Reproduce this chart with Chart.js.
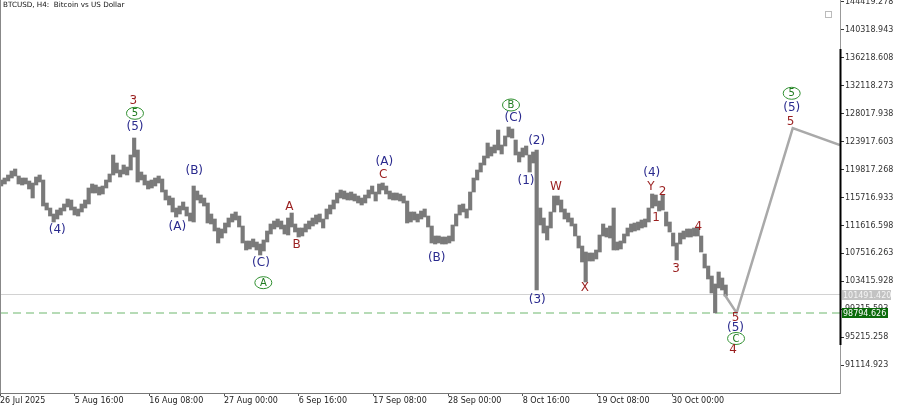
<!DOCTYPE html>
<html><head><meta charset="utf-8">
<script src="https://cdn.jsdelivr.net/npm/chart.js@4.4.1/dist/chart.umd.min.js"></script>
<style>html,body{margin:0;padding:0;background:#fff;overflow:hidden}#wrap{width:900px;height:405px;position:relative}</style>
</head><body><div id="wrap"><canvas id="c" width="900" height="405"></canvas></div>
<script>
// 12-hour blocks (3 H4 bars each) starting 26 Jul 2025 00:00
const highs=[118280,118573,119013,119599,119893,118866,118573,118573,118133,117840,
118720,119013,118280,114908,114175,113296,113882,114175,114762,115495,
115348,114322,114029,114762,115348,117107,117694,117547,117254,117400,
118280,119160,121945,120772,119746,120479,120186,121945,124437,122678,
119453,119013,118133,118280,118573,118866,118427,116814,115934,115641,
114175,114468,115055,114322,113442,117400,116667,116081,115641,114908,
113296,112563,111243,111097,111976,112709,113296,113589,113002,111536,
109337,109337,109631,109191,108898,109484,110803,111830,112269,112563,
112269,111683,112709,113442,111830,111243,111243,111830,112269,112709,
113149,113296,112563,114029,114615,115348,116374,116814,116667,116374,
116521,116228,115934,115641,116081,116814,117400,116521,117694,117840,
117400,116667,116374,116374,116228,115934,115201,113589,113589,113296,
113735,114029,113002,111536,110070,110070,109924,109924,110070,111683,
113296,114615,114762,114029,116521,118573,119746,120772,121798,123704,
123118,123411,125610,123411,124732,126050,125759,124144,122385,122971,
123264,121945,122385,122678,114175,112709,111536,113589,115934,115934,
115348,114029,113442,112709,111830,110070,108604,107725,107578,107578,
108018,110217,111830,111243,111536,114175,109191,109337,110364,111243,
111830,111976,112123,112416,112563,114175,116228,116081,115201,116081,
113589,112123,110510,109044,110510,110803,111097,111097,111243,111390,
110070,107432,105672,104206,103034,104793,103913,102887];
const lows=[117400,117694,118133,118573,118866,117694,117547,117694,116961,115641,
117547,117987,114468,113882,113002,112123,112563,113149,113735,114322,
113882,113149,113002,113589,114175,114762,116374,116374,116081,116228,
117107,117987,119013,119306,118720,119160,119013,119746,121652,117987,
118280,117547,116961,117107,117400,117840,116521,115348,114615,113589,
112856,113296,113882,113002,112269,112123,115348,114908,114468,111976,
111830,110803,109044,109777,110510,111390,112123,112416,111390,109044,
108018,108165,108458,108018,107285,107871,109191,110364,111097,111390,
111097,110364,110217,111390,110657,109924,110070,110657,111097,111536,
111830,112123,111243,112563,113296,114029,114908,115641,115495,115348,
115348,115201,114908,114615,114908,115641,116228,115201,116228,116814,
116228,115495,115348,115348,115201,114908,111976,112123,112416,112123,
112563,112856,111390,109044,108898,109044,108898,108898,109044,109337,
111536,113149,113589,112709,113882,116521,118280,119453,120479,121505,
121798,122238,122678,122092,123264,124586,124437,121945,120919,121652,
121945,119453,120772,102154,111683,110510,109484,111243,113589,114615,
113589,112563,112123,111536,110070,108311,106259,103327,106405,106405,
106699,107725,110070,109924,109777,108018,108018,108165,109044,110070,
110657,110803,110950,111243,111390,112123,114175,114468,113735,113882,
111536,110657,108604,106552,108898,109631,109924,109924,110070,110070,
107725,105379,103767,101714,98800,102447,102154,101274];

const xTickBars=[0,64,128,192,256,320,384,448,512,576]; // H4 bar index
const xTickLabels=['26 Jul 2025','5 Aug 16:00','16 Aug 08:00','27 Aug 00:00','6 Sep 16:00','17 Sep 08:00','28 Sep 00:00','8 Oct 16:00','19 Oct 08:00','30 Oct 00:00'];
const yTickValues=[91114.923,95215.258,99315.593,103415.928,107516.263,111616.598,115716.933,119817.268,123917.603,128017.938,132118.273,136218.608,140318.943,144419.278];

const bidPrice=101491.420;
const levelPrice=98794.626;
const projBars=[621,631.4,679.5,720];
const projPrices=[101491,98800,125880,123400];

// Elliott wave labels: text, H4 bar index, price, degree (n=navy, m=maroon, g=green circled)
const waveText =['(4)','3','5','(5)','(A)','(B)','(C)','A','A','B','(A)','C','(B)','B','(C)','(2)','(1)','(3)','W','X','(4)','Y','2','1','3','4','5','(5)','C','4','5','(5)','5'];
const waveBar  =[49.1,114.3,115.7,115.7,152.0,166.5,223.7,225.7,248.0,254.3,329.4,328.5,374.3,438.0,440.0,460.0,450.9,460.5,476.6,501.4,558.6,558.0,568.0,562.3,579.4,598.5,630.4,630.4,630.9,628.3,678.6,678.6,677.7];
const wavePrice=[110952,129864,128060,126096,111436,119646,106070,103226,114368,108753,120965,119015,106891,129277,127327,124044,118180,100690,117300,102405,119264,117300,116567,112667,105190,111348,98051,96585,95046,93360,130992,128793,126829];
const waveDeg  =['n','m','g','n','n','n','n','g','m','m','n','m','n','g','n','n','n','n','m','m','n','m','m','m','m','m','m','n','g','m','g','n','m'];

const NAVY='#2a2a8e', MAROON='#9a1f1f', GREEN='#2f8f2f';

const overlay={
  id:'overlay',
  afterDatasetsDraw(chart){
    const ctx=chart.ctx, xs=chart.scales.x, ys=chart.scales.y;
    ctx.save();
    ctx.textAlign='center'; ctx.textBaseline='middle';
    for(let i=0;i<waveText.length;i++){
      const x=xs.getPixelForValue(waveBar[i]), y=ys.getPixelForValue(wavePrice[i]);
      const d=waveDeg[i];
      if(d==='g'){
        ctx.strokeStyle=GREEN; ctx.lineWidth=1;
        ctx.beginPath(); ctx.ellipse(x,y,8.5,6,0,0,Math.PI*2); ctx.stroke();
        ctx.fillStyle='#1f7a1f'; ctx.font='10px "DejaVu Sans"';
        ctx.fillText(waveText[i],x,y+0.5);
      } else {
        ctx.fillStyle=d==='n'?NAVY:MAROON;
        ctx.font='12px "DejaVu Sans"';
        ctx.fillText(waveText[i],x,y);
      }
    }
    ctx.restore();
  },
  afterDraw(chart){
    const ctx=chart.ctx, ys=chart.scales.y, a=chart.chartArea;
    ctx.save();
    // frame
    ctx.strokeStyle='#888'; ctx.lineWidth=1;
    ctx.beginPath(); ctx.moveTo(a.left+0.5,a.top); ctx.lineTo(a.left+0.5,a.bottom); ctx.stroke();
    ctx.strokeStyle='#000'; ctx.lineWidth=2;
    ctx.beginPath(); ctx.moveTo(a.right+0.5,ys.getPixelForValue(137500)); ctx.lineTo(a.right+0.5,ys.getPixelForValue(94100)); ctx.stroke();
    // price boxes
    ctx.font='8px "DejaVu Sans"'; ctx.textBaseline='middle'; ctx.textAlign='left';
    let y=Math.round(ys.getPixelForValue(bidPrice));
    ctx.fillStyle='#c3c3c3'; ctx.fillRect(a.right+2,y-5,49,10);
    ctx.fillStyle='#f4f4f4'; ctx.fillText(bidPrice.toFixed(3),a.right+3,y+0.5);
    y=Math.round(ys.getPixelForValue(levelPrice));
    ctx.fillStyle='#0b6b0b'; ctx.fillRect(a.right+2,y-5,46,10);
    ctx.fillStyle='#ffffff'; ctx.fillText(levelPrice.toFixed(3),a.right+3,y+0.5);
    // title
    ctx.fillStyle='#111'; ctx.font='7.2px "DejaVu Sans"';
    ctx.fillText('BTCUSD, H4:  Bitcoin vs US Dollar',3,5.5);
    // small icon
    ctx.strokeStyle='#bbb'; ctx.lineWidth=1;
    ctx.strokeRect(825.5,11.5,6,6);
    ctx.restore();
  }
};

new Chart(document.getElementById('c'),{
  type:'bar',
  data:{datasets:[
    {type:'line',data:projBars.map((b,i)=>({x:b,y:projPrices[i]})),borderColor:'#a9a9a9',borderWidth:2.5,pointRadius:0,order:1},
    {type:'bar',data:highs.map((h,i)=>({x:i*3+1,y:[lows[i],h]})),backgroundColor:'#7a7a7a',barThickness:3.5,order:2},
    {type:'line',data:[{x:0,y:bidPrice},{x:720,y:bidPrice}],borderColor:'#d2d2d2',borderWidth:1,pointRadius:0,order:4},
    {type:'line',data:[{x:0,y:levelPrice},{x:720,y:levelPrice}],borderColor:'#9fd09f',borderWidth:1.5,borderDash:[8,5],pointRadius:0,order:3}
  ]},
  options:{
    responsive:false,animation:false,devicePixelRatio:1,
    layout:{padding:0},
    plugins:{legend:{display:false},tooltip:{enabled:false},title:{display:false}},
    scales:{
      x:{type:'linear',min:0,max:720,offset:false,position:'bottom',
        grid:{display:true,drawOnChartArea:false,drawTicks:true,tickLength:3,color:'#555',offset:false},
        border:{display:true,color:'#777',width:1},
        ticks:{autoSkip:false,maxRotation:0,minRotation:0,align:'start',padding:0,color:'#222',font:{family:'DejaVu Sans',size:8},
          callback:(v,i)=>xTickLabels[i]},
        afterBuildTicks:s=>{s.ticks=xTickBars.map(v=>({value:v}));},
        afterFit:s=>{s.height=12;s.paddingLeft=0;s.paddingRight=0;}
      },
      y:{type:'linear',position:'right',min:87054,max:144668,beginAtZero:false,
        grid:{display:true,drawOnChartArea:false,tickLength:4,color:'#333'},
        border:{display:true,color:'#999',width:1},
        ticks:{padding:1,color:'#333',font:{family:'DejaVu Sans',size:8},callback:v=>Number(v).toFixed(3)},
        afterBuildTicks:s=>{s.ticks=yTickValues.map(v=>({value:v}));},
        afterFit:s=>{s.width=60;s.paddingTop=0;s.paddingBottom=0;}
      }
    }
  },
  plugins:[overlay]
});
</script></body></html>
